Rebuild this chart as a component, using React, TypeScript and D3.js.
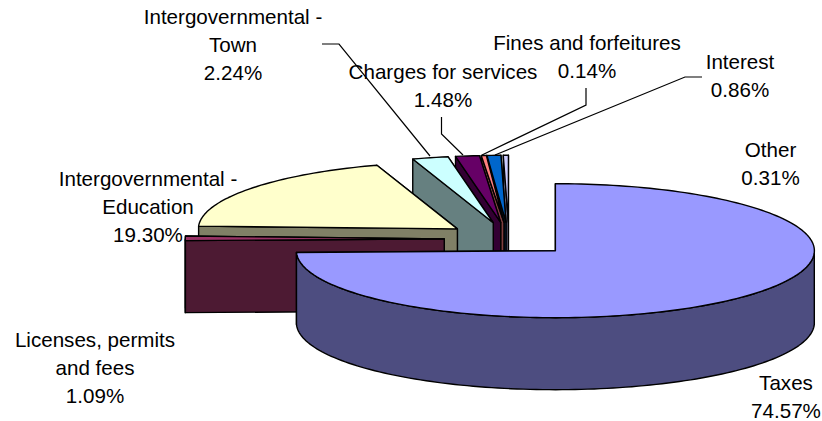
import React from "react";
import * as d3 from "d3";

const categories = ["Taxes","Licenses, permits and fees","Intergovernmental - Education","Intergovernmental - Town","Charges for services","Fines and forfeitures","Interest","Other"];
const values = [74.57,1.09,19.30,2.24,1.48,0.14,0.86,0.31];
const topColors = ["#9999FF","#993366","#FFFFCC","#CCFFFF","#660066","#FF8080","#0066CC","#CCCCFF"];
const sideColors = ["#4D4D80","#4D1A33","#808066","#668080","#330033","#804040","#003366","#666680"];
const labels: {lines:string[];x:number;y:number}[] = [
  {lines:["Taxes","74.57%"],x:786,y:390},
  {lines:["Licenses, permits","and fees","1.09%"],x:95,y:347},
  {lines:["Intergovernmental -","Education","19.30%"],x:148,y:186},
  {lines:["Intergovernmental -","Town","2.24%"],x:233,y:24},
  {lines:["Charges for services","1.48%"],x:443,y:79},
  {lines:["Fines and forfeitures","0.14%"],x:587,y:50},
  {lines:["Interest","0.86%"],x:740,y:69},
  {lines:["Other","0.31%"],x:770.5,y:157},
];
const leaders: [number,number][][] = [
  [[322,44],[339,44],[430,156]],
  [[441.5,117],[441.5,134],[463,155]],
  [[586,88],[586,105],[482,155]],
  [[702,77],[685,77],[495,155]],
];

const CX = 509, CY = 239, RX = 259, RY = 67, DEPTH = 72, EXPLODE = 0.25;
// Very thin slices are drawn at a minimum sweep so their fill stays visible, as in the reference.
const MIN_SWEEP = 0.02;

export default function App() {
  const arcs = d3.pie<number>().sort(null)(values);
  const px = (a:number)=>Math.sin(a)*RX;
  const py = (a:number)=>-Math.cos(a)*RY;
  const line = d3.line();
  const order = d3.range(values.length).slice().sort((a,b)=>{
    const rank=(i:number)=> i===0?-1:i===1?0:i; return rank(b)-rank(a);
  });
  const stroke = {stroke:"#000",strokeWidth:1.4,strokeLinejoin:"round" as const};
  return (
    <svg width={822} height={421} style={{position:"absolute",left:0,top:0,background:"#fff"}}>
      {order.map(i=>{
        const s=arcs[i];
        const mid=(s.startAngle+s.endAngle)/2;
        const sweep=Math.max(MIN_SWEEP,s.endAngle-s.startAngle);
        const a0=mid-sweep/2, a1=mid+sweep/2;
        const ax=CX+EXPLODE*px(mid), ay=CY+EXPLODE*py(mid);
        const n=Math.max(2,Math.ceil(sweep*40));
        const angs=d3.range(n+1).map(k=>a0+sweep*k/n);
        const rim:[number,number][]=angs.map(a=>[ax+px(a),ay+py(a)]);
        const top=[[ax,ay] as [number,number],...rim];
        const wall=(a:number)=>{
          const e:[number,number]=[ax+px(a),ay+py(a)];
          return line([[ax,ay],e,[e[0],e[1]+DEPTH],[ax,ay+DEPTH]])+"Z";
        };
        const front=angs.filter(a=>Math.cos(a)<=0);
        const frontPts:[number,number][]=front.map(a=>[ax+px(a),ay+py(a)]);
        const side=frontPts.length>1?line([...frontPts,...frontPts.slice().reverse().map(p=>[p[0],p[1]+DEPTH] as [number,number])])+"Z":null;
        return <g key={categories[i]}>
          <path d={wall(a1)} fill={sideColors[i]} {...stroke}/>
          <path d={wall(a0)} fill={sideColors[i]} {...stroke}/>
          {side&&<path d={side} fill={sideColors[i]} {...stroke}/>}
          <path d={line(top)+"Z"} fill={topColors[i]} {...stroke}/>
        </g>;
      })}
      {leaders.map((l,i)=><path key={i} d={line(l)!} fill="none" stroke="#000" strokeWidth={1.2}/>)}
      {labels.map(l=><text key={l.lines[0]+l.lines[1]} x={l.x} y={l.y} textAnchor="middle" fontFamily="Liberation Sans" fontSize={20.6} fill="#000">
        {l.lines.map((t,k)=><tspan key={k} x={l.x} dy={k?27.8:0}>{t}</tspan>)}
      </text>)}
    </svg>
  );
}
